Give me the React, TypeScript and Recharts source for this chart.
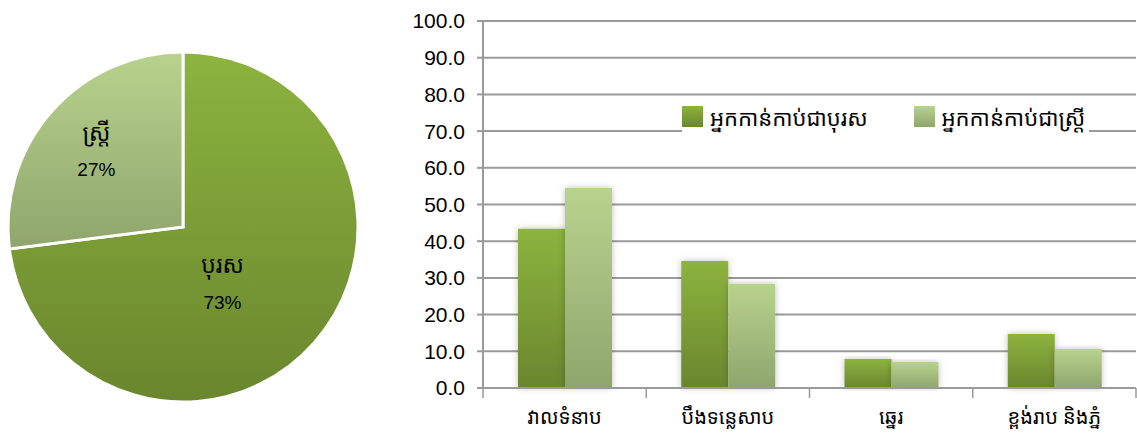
import React from 'react';
import { PieChart, Pie, Cell, BarChart, Bar, XAxis, YAxis, CartesianGrid } from 'recharts';

const pieNames = ['បុរស', 'ស្ត្រី'];
const pieValues = [73, 27];

const categories = ['វាលទំនាប', 'បឹងទន្លេសាប', 'ឆ្នេរ', 'ខ្ពង់រាប និងភ្នំ'];
const maleValues = [43.4, 34.6, 7.9, 14.7];
const femaleValues = [54.5, 28.4, 7.1, 10.6];
const seriesNames = ['អ្នកកាន់កាប់ជាបុរស', 'អ្នកកាន់កាប់ជាស្ត្រី'];
const yTicks = [0, 10, 20, 30, 40, 50, 60, 70, 80, 90, 100];

const pieData = pieNames.map((name, i) => ({ name, value: pieValues[i] }));
const barData = categories.map((c, i) => ({ cat: c, male: maleValues[i], female: femaleValues[i] }));

const KH = '"Noto Sans Khmer", "Khmer OS", "Khmer OS System", "DejaVu Sans", sans-serif';
const AR = '"Liberation Sans", Arial, sans-serif';
const GRID = '#9a9a9a';

const labelRadius = [0.4, 0.66];
const labelShift = [[-13, 10], [0, 0]];

const PieLabel = (props: any) => {
  const { cx, cy, midAngle, outerRadius, index } = props;
  const RAD = Math.PI / 180;
  const r = outerRadius * labelRadius[index];
  const x = cx + r * Math.cos(-midAngle * RAD) + labelShift[index][0];
  const y = cy + r * Math.sin(-midAngle * RAD) + labelShift[index][1];
  return (
    <g>
      <text x={x} y={y - 19} textAnchor="middle" dominantBaseline="central" fontFamily={KH} fontSize={23} fill="#000">
        {pieNames[index]}
      </text>
      <text x={x} y={y + 19} textAnchor="middle" dominantBaseline="central" fontFamily={AR} fontSize={19} fill="#000">
        {pieValues[index]}%
      </text>
    </g>
  );
};

const XTick = (props: any) => {
  const { x, y, payload, index } = props;
  const band = 163.25;
  return (
    <g>
      <line x1={x - band / 2} y1={y - 8} x2={x - band / 2} y2={y + 2} stroke={GRID} strokeWidth={1.5} />
      {index === categories.length - 1 && (
        <line x1={x + band / 2} y1={y - 8} x2={x + band / 2} y2={y + 2} stroke={GRID} strokeWidth={1.5} />
      )}
      <text x={x} y={y + 20} textAnchor="middle" dominantBaseline="central" fontFamily={KH} fontSize={20} fill="#000">
        {payload.value}
      </text>
    </g>
  );
};

export default function App() {
  return (
    <div style={{ position: 'absolute', left: 0, top: 0, width: 1137, height: 439, background: '#fff' }}>
      <div style={{ position: 'absolute', left: 0, top: 0 }}>
        <PieChart width={370} height={439} margin={{ top: 0, right: 0, bottom: 0, left: 0 }}>
          <defs>
            <linearGradient id="pm" x1="0" y1="0" x2="0" y2="1">
              <stop offset="0%" stopColor="#8db33f" />
              <stop offset="100%" stopColor="#6a862e" />
            </linearGradient>
            <linearGradient id="pf" x1="0" y1="0" x2="0" y2="1">
              <stop offset="0%" stopColor="#b8d38d" />
              <stop offset="100%" stopColor="#8fa56d" />
            </linearGradient>
          </defs>
          <Pie
            data={pieData}
            dataKey="value"
            nameKey="name"
            cx={183}
            cy={227}
            outerRadius={175}
            startAngle={90}
            endAngle={-270}
            stroke="#fff"
            strokeWidth={3}
            label={PieLabel}
            labelLine={false}
            isAnimationActive={false}
          >
            <Cell fill="url(#pm)" />
            <Cell fill="url(#pf)" />
          </Pie>
        </PieChart>
      </div>
      <div style={{ position: 'absolute', left: 400, top: 0 }}>
        <BarChart
          width={737}
          height={439}
          data={barData}
          margin={{ top: 21, right: 1, bottom: 0, left: 0 }}
          barCategoryGap={35}
          barGap={0}
        >
          <defs>
            <linearGradient id="bm" x1="0" y1="0" x2="0" y2="1">
              <stop offset="0%" stopColor="#8db33f" />
              <stop offset="100%" stopColor="#6a862e" />
            </linearGradient>
            <linearGradient id="bf" x1="0" y1="0" x2="0" y2="1">
              <stop offset="0%" stopColor="#b8d38d" />
              <stop offset="100%" stopColor="#8fa56d" />
            </linearGradient>
            <filter id="sh" x="-20%" y="-10%" width="140%" height="120%">
              <feDropShadow dx="0" dy="0" stdDeviation="3" floodColor="#000" floodOpacity="0.25" />
            </filter>
          </defs>
          <CartesianGrid vertical={false} stroke={GRID} strokeWidth={2} />
          <XAxis
            dataKey="cat"
            height={51}
            axisLine={{ stroke: GRID, strokeWidth: 2 }}
            tickLine={false}
            tick={<XTick />}
            interval={0}
          />
          <YAxis
            width={83}
            domain={[0, 100]}
            ticks={yTicks}
            interval={0}
            tickFormatter={(v: number) => v.toFixed(1)}
            axisLine={{ stroke: GRID, strokeWidth: 2 }}
            tickLine={{ stroke: GRID, strokeWidth: 2 }}
            tickSize={6}
            tickMargin={12}
            tick={{ fontFamily: AR, fontSize: 21, fill: '#000' }}
          />
          <Bar dataKey="male" name={seriesNames[0]} fill="url(#bm)" barSize={47} isAnimationActive={false} filter="url(#sh)" />
          <Bar dataKey="female" name={seriesNames[1]} fill="url(#bf)" barSize={47} isAnimationActive={false} filter="url(#sh)" />
        </BarChart>
      </div>
      <div
        style={{
          position: 'absolute', left: 682, top: 99, height: 35, display: 'flex', alignItems: 'center',
          fontFamily: KH, fontSize: 22, color: '#000', background: '#fff', paddingRight: 4,
        }}
      >
        <div style={{ width: 21, height: 21, background: 'linear-gradient(#8db33f, #6a862e)', marginRight: 7 }} />
        <span style={{ marginRight: 46 }}>{seriesNames[0]}</span>
        <div style={{ width: 21, height: 21, background: 'linear-gradient(#b8d38d, #8fa56d)', marginRight: 7 }} />
        <span>{seriesNames[1]}</span>
      </div>
    </div>
  );
}
